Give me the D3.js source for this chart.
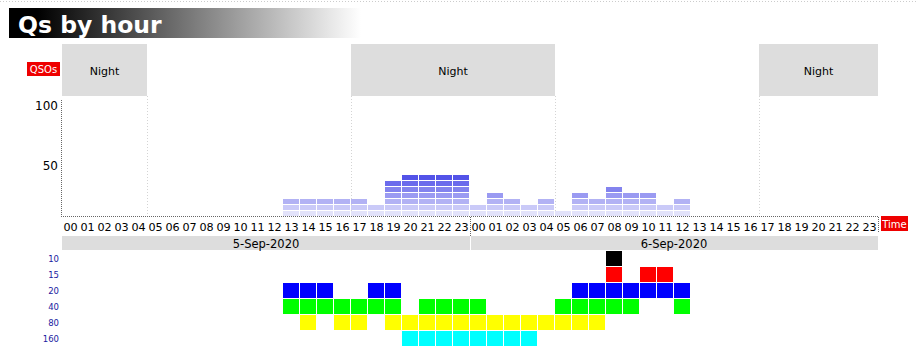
<!DOCTYPE html>
<html><head><meta charset="utf-8">
<script src="https://cdn.jsdelivr.net/npm/d3@7"></script>
<style>body{margin:0;background:#fff}svg{display:block}text{font-family:"DejaVu Sans",Verdana,sans-serif}</style>
</head><body><svg id="c" width="918" height="360"></svg>
<script>
// ---- data ----
const hourLabels = d3.range(48).map(i => String(i % 24).padStart(2, "0"));
const dates = ["5-Sep-2020", "6-Sep-2020"];
// QSOs per hour (columns 0..47 = 5-Sep 00 .. 6-Sep 23)
const qsos = [0,0,0,0,0,0,0,0,0,0,0,0,0,15,15,15,15,15,10,30,35,35,35,35,
              10,20,15,10,15,5,20,15,25,20,20,10,15,0,0,0,0,0,0,0,0,0,0,0];
const yTicks = [50, 100];
const nights = [[0,5],[17,29],[41,48]];
const bands = ["10","15","20","40","80","160"];
const bandColors = ["#000000","#ff0000","#0000ff","#00ff00","#ffff00","#00ffff"];
const band10 = [32];
const band15 = [32,34,35];
const band20 = [13,14,15,18,19,30,31,32,33,34,35,36];
const band40 = [13,14,15,16,17,18,19,21,22,23,24,29,30,31,32,33,36];
const band80 = [14,16,17,19,20,21,22,23,24,25,26,27,28,29,30,31];
const band160 = [20,21,22,23,24,25,26,27];
const bandHours = [band10, band15, band20, band40, band80, band160];
const segStep = 5;
const segColors = ["#e2e2fa","#cacaf8","#b2b2f4","#9a9af2","#8383ee","#6b6bec","#5353e8"];

const svg = d3.select("#c");
const x = d3.scaleBand().domain(d3.range(48)).range([62, 878]).paddingInner(0);
const y = d3.scaleLinear().domain([0, 100]).range([217, 97]);
const yb = d3.scaleBand().domain(bands).range([250, 346]);

// top dotted line
svg.append("line").attr("x1",0).attr("x2",918).attr("y1",1.5).attr("y2",1.5)
  .attr("stroke","#ccc").attr("stroke-dasharray","1,2");

// title
const defs = svg.append("defs");
const g = defs.append("linearGradient").attr("id","tg");
g.append("stop").attr("offset","0%").attr("stop-color","#000");
g.append("stop").attr("offset","8%").attr("stop-color","#000");
g.append("stop").attr("offset","100%").attr("stop-color","#fff");
svg.append("rect").attr("x",9).attr("y",8).attr("width",352).attr("height",30).attr("fill","url(#tg)");
svg.append("text").attr("x",18).attr("y",33).attr("fill","#fff")
  .attr("font-size",23.5).attr("font-weight","bold").text("Qs by hour");

// night boxes
nights.forEach(n => {
  const x0 = x(n[0]), x1 = n[1] >= 48 ? x(47) + x.bandwidth() : x(n[1]);
  svg.append("rect").attr("x",x0).attr("y",44).attr("width",x1-x0).attr("height",52).attr("fill","#dddddd");
  svg.append("text").attr("x",(x0+x1)/2).attr("y",75).attr("text-anchor","middle")
    .attr("font-size",11).attr("fill","#000").text("Night");
  [x0, x1].forEach(xx => {
    if (xx > 63 && xx < 877) svg.append("line").attr("x1",xx+0.5).attr("x2",xx+0.5).attr("y1",96).attr("y2",217)
      .attr("stroke","#d4d4d4").attr("stroke-dasharray","1,2");
  });
});

// axes lines
svg.append("line").attr("x1",61.5).attr("x2",61.5).attr("y1",100).attr("y2",217)
  .attr("stroke","#666").attr("stroke-dasharray","1,1");
svg.append("line").attr("x1",61).attr("x2",879).attr("y1",216.5).attr("y2",216.5)
  .attr("stroke","#666").attr("stroke-dasharray","1,1");
svg.append("line").attr("x1",878.5).attr("x2",878.5).attr("y1",217).attr("y2",233)
  .attr("stroke","#666").attr("stroke-dasharray","1,1");
svg.append("line").attr("x1",x(24)+0.5).attr("x2",x(24)+0.5).attr("y1",217).attr("y2",236)
  .attr("stroke","#666").attr("stroke-dasharray","1,1");

// y tick labels
svg.selectAll(".yt").data(yTicks).join("text").attr("class","yt")
  .attr("x",58).attr("y",d => y(d)+13).attr("text-anchor","end").attr("font-size",12).attr("fill","#000")
  .text(d => d);

// QSOs label
svg.append("rect").attr("x",27).attr("y",62).attr("width",33).attr("height",14).attr("fill","#ee0000");
svg.append("text").attr("x",43.5).attr("y",73).attr("text-anchor","middle").attr("font-size",10)
  .attr("fill","#fff").text("QSOs");
// Time label
svg.append("rect").attr("x",881).attr("y",216).attr("width",27).attr("height",15).attr("fill","#ee0000");
svg.append("text").attr("x",894.5).attr("y",227.5).attr("text-anchor","middle").attr("font-size",10)
  .attr("fill","#fff").text("Time");

// bars as stacked segments
const segs = [];
qsos.forEach((q, i) => {
  const n = Math.ceil(q / segStep);
  for (let s = 0; s < n; s++) segs.push({i, s});
});
svg.selectAll(".seg").data(segs).join("rect").attr("class","seg")
  .attr("x", d => x(d.i)).attr("width", x.bandwidth()-1)
  .attr("y", d => y((d.s+1)*segStep)).attr("height", d => y(d.s*segStep) - y((d.s+1)*segStep) - 1)
  .attr("fill", d => segColors[Math.min(d.s, segColors.length-1)]);

// hour labels
svg.selectAll(".hl").data(hourLabels).join("text").attr("class","hl")
  .attr("x",(d,i) => x(i) + x.bandwidth()/2).attr("y",231).attr("text-anchor","middle")
  .attr("font-size",11.2).attr("fill","#000").text(d => d);

// date band
dates.forEach((d, k) => {
  const x0 = x(k*24), x1 = k === 1 ? x(47)+x.bandwidth() : x(24);
  svg.append("rect").attr("x",x0 + (k ? 1 : 0)).attr("y",236).attr("width",x1-x0-(k?1:0)).attr("height",14).attr("fill","#dddddd");
  svg.append("text").attr("x",(x0+x1)/2).attr("y",247.5).attr("text-anchor","middle")
    .attr("font-size",11.5).attr("fill","#000").text(d);
});

// band rows
svg.selectAll(".bl").data(bands).join("text").attr("class","bl")
  .attr("x",59).attr("y",d => yb(d) + yb.bandwidth()/2 + 4).attr("text-anchor","end")
  .attr("font-size",8.5).attr("fill","#1a1aa0").text(d => d);
const cells = [];
bandHours.forEach((hrs, b) => hrs.forEach(h => cells.push({b, h})));
svg.selectAll(".cell").data(cells).join("rect").attr("class","cell")
  .attr("x", d => x(d.h)).attr("width", x.bandwidth()-1)
  .attr("y", d => yb(bands[d.b]) + 1).attr("height", yb.bandwidth()-1)
  .attr("fill", d => bandColors[d.b]);
</script></body></html>
